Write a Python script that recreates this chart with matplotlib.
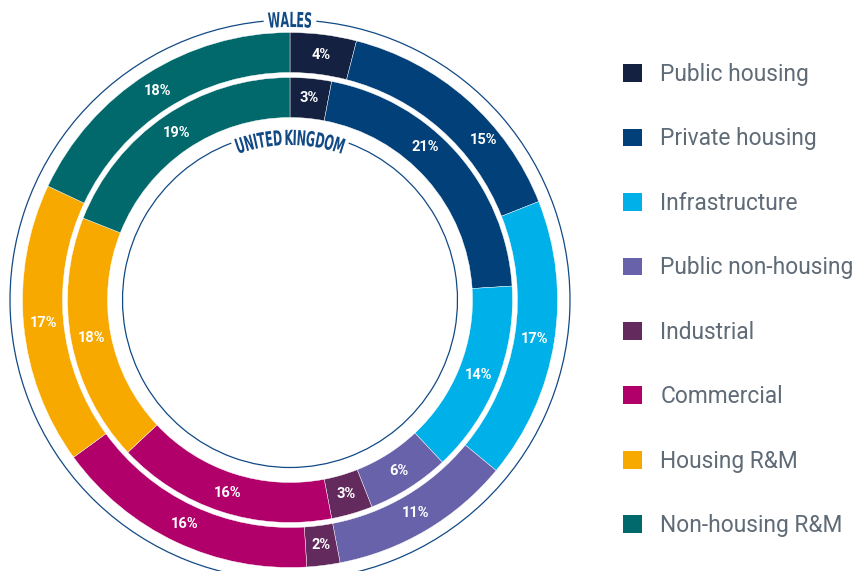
import numpy as np
import matplotlib
matplotlib.use("Agg")
import matplotlib.pyplot as plt
from matplotlib.patches import Arc, Patch
from matplotlib.transforms import Affine2D
from matplotlib.patheffects import AbstractPathEffect

# data
categories = ["Public housing", "Private housing", "Infrastructure", "Public non-housing",
              "Industrial", "Commercial", "Housing R&M", "Non-housing R&M"]
wales = [4, 15, 17, 11, 2, 16, 17, 18]
uk = [3, 21, 14, 6, 3, 16, 18, 19]
colors = ["#152140", "#014078", "#00b0e9", "#6762a9", "#622a5d", "#b1006a", "#f8a900", "#01696b"]

W, H = 866, 571
cx, cy = 290, 271          # centre of the rings (pixels, y up)
navy = "#124a85"
grey_txt = "#5f6b77"

fig = plt.figure(figsize=(W / 100, H / 100), dpi=100)
ax = fig.add_axes([0, 0, 1, 1])

lbl = dict(color="white", fontweight="bold", family=["Roboto", "DejaVu Sans"], fontsize=10.5)
wp = dict(width=40, linewidth=0.3, edgecolor="white")

# outer ring: Wales
_, _, out_txt = ax.pie(wales, colors=colors, radius=267.5, center=(cx, cy), startangle=90,
                       counterclock=False, wedgeprops=wp, autopct=lambda p: f"{p:.0f}%",
                       pctdistance=0.925, textprops=lbl)
# inner ring: UK
_, _, in_txt = ax.pie(uk, colors=colors, radius=222.5, center=(cx, cy), startangle=90,
                      counterclock=False, wedgeprops=wp, autopct=lambda p: f"{p:.0f}%",
                      pctdistance=0.91, textprops=lbl)


def move_label(t, deg, r):
    # deg measured clockwise from 12 o'clock
    a = np.radians(90 - deg)
    t.set_position((cx + r * np.cos(a), cy + r * np.sin(a)))


# private housing labels sit off the slice middle in the original
move_label(out_txt[1], 50.5, 251)
move_label(in_txt[1], 41.5, 204)

ax.set_xlim(0, W)
ax.set_ylim(0, H)
ax.set_aspect("equal")
ax.axis("off")

# thin circles with a gap for the titles
ax.add_patch(Arc((cx, cy), 2 * 280, 2 * 280, theta1=95.4, theta2=444.6, color=navy, lw=0.9))
ax.add_patch(Arc((cx, cy), 2 * 167.5, 2 * 167.5, theta1=110.5, theta2=429.5, color=navy, lw=0.9))


class Squeeze(AbstractPathEffect):
    """narrow each glyph horizontally (condensed look)"""
    def __init__(self, sx):
        super().__init__()
        self.sx = sx

    def draw_path(self, renderer, gc, tpath, affine, rgbFace=None):
        ext = tpath.get_extents()
        c = (ext.x0 + ext.x1) / 2
        t = Affine2D().translate(-c, 0).scale(self.sx, 1).translate(c, 0) + affine
        renderer.draw_path(gc, tpath, t, rgbFace)


def curved_text(s, r, target_w, fs):
    renderer = fig.canvas.get_renderer()
    kw = dict(family="DejaVu Sans", fontweight="bold", color=navy)
    widths = []
    for ch in s:
        t = ax.text(0, 0, ch if ch != " " else "I", fontsize=fs, **kw)
        widths.append(t.get_window_extent(renderer).width * (0.45 if ch == " " else 1))
        t.remove()
    sx = target_w / sum(widths)
    widths = [w * sx for w in widths]
    a0 = np.pi / 2 + sum(widths) / 2 / r
    pos = 0
    for ch, w in zip(s, widths):
        a = a0 - (pos + w / 2) / r
        pos += w
        ax.text(cx + r * np.cos(a), cy + r * np.sin(a), ch, fontsize=fs, rotation=np.degrees(a) - 90,
                ha="center", va="center", rotation_mode="anchor",
                path_effects=[Squeeze(sx)], **kw)


curved_text("WALES", 279, 44, 15)
curved_text("UNITED KINGDOM", 161, 110, 15)

handles = [Patch(facecolor=c, edgecolor="none") for c in colors]
leg = fig.legend(handles, categories, loc="upper left", bbox_to_anchor=(623 / W, 1 - 63 / H),
                 frameon=False, handlelength=0.83, handleheight=0.83, handletextpad=0.8,
                 labelspacing=1.82, borderpad=0, borderaxespad=0,
                 prop=dict(family=["Roboto", "DejaVu Sans"], size=16.4))
for t in leg.get_texts():
    t.set_color(grey_txt)

fig.savefig("out.png", dpi=100)
